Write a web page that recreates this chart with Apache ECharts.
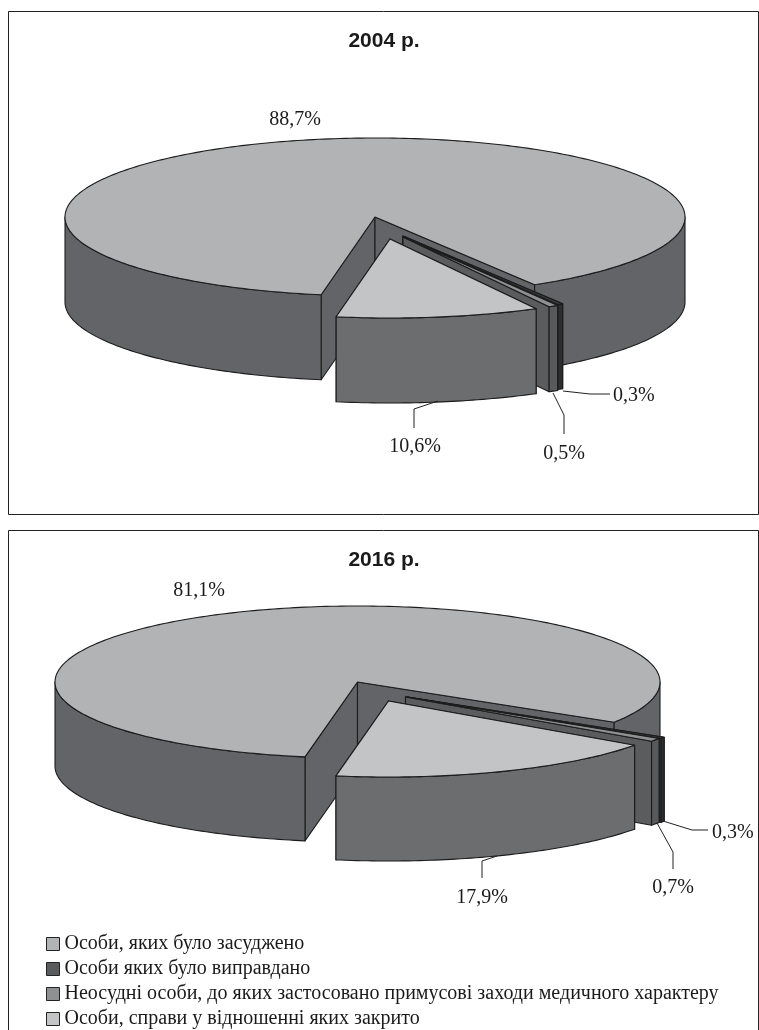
<!DOCTYPE html>
<html><head><meta charset="utf-8">
<style>html,body{margin:0;padding:0;background:#fff}#c{width:759px;height:1030px}</style>
<script src="https://cdn.jsdelivr.net/npm/echarts@6/dist/echarts.min.js"></script>
</head><body><div id="c"></div>
<script>
var categories = ['Особи, яких було засуджено','Особи яких було виправдано','Неосудні особи, до яких застосовано примусові заходи медичного характеру','Особи, справи у відношенні яких закрито'];
var values2004 = [88.7, 0.3, 0.5, 10.6];
var values2016 = [81.1, 0.3, 0.7, 17.9];
var titles = ['2004 р.', '2016 р.'];

var topColors  = ['#b2b3b5','#3a3a3c','#8f9092','#c3c4c6'];
var rimColors  = ['#636467','#2e2e30','#58595b','#6c6d6f'];
var wallColors = ['#636467','#3c3c3e','#5b5c5e','#6c6d6f'];
var stroke = '#1c1c1c';
var labelFont = '20px "Liberation Serif"';

var pies = [
 {values: values2004, cx:375, cy:217, rx:310, ry:79, depth:85, start:190,
  offsets:[[0,0],[28,19],[28,20],[15,22]],
  labels:[[295,120,'center'],[613,396,'left'],[564,454,'center'],[415,447,'center']],
  leaders:[null,[[563,391],[590,394],[610,394]],[[553,393],[564,415],[564,434]],[[438,401],[414,409],[414,428]]]},
 {values: values2016, cx:357.5, cy:682, rx:302.5, ry:76, depth:84, start:190,
  offsets:[[0,0],[50,15],[48,15],[31,19]],
  labels:[[199,591,'center'],[712,833,'left'],[673,888,'center'],[482,898,'center']],
  leaders:[null,[[663,821],[692,830],[708,830]],[[657,823],[673,852],[673,869]],[[497,856],[482,861],[482,878]]]}
];

function pt(p, o, a, dz){
  var r = a*Math.PI/180;
  return [p.cx+o[0]+p.rx*Math.sin(r), p.cy+o[1]-p.ry*Math.cos(r)+(dz||0)];
}
function arc(p,o,a1,a2,dz){
  var out=[], n=Math.max(2,Math.ceil(Math.abs(a2-a1)));
  for(var i=0;i<=n;i++) out.push(pt(p,o,a1+(a2-a1)*i/n,dz));
  return out;
}
function poly(points,fill,z2){
  return {type:'polygon',z2:z2,shape:{points:points},style:{fill:fill,stroke:stroke,lineWidth:1.1,lineJoin:'round'}};
}
function sliceRange(p,idx){
  var sum=p.values.reduce(function(a,b){return a+b;},0), a=p.start;
  for(var i=0;i<idx;i++) a+=p.values[i]/sum*360;
  return [a,a+p.values[idx]/sum*360];
}
function makeRender(p,idx){
  return function(params,api){
    var value=api.value(0), o=p.offsets[idx], rng=sliceRange(p,idx), a1=rng[0], a2=rng[1];
    var ch=[], apex=[p.cx+o[0],p.cy+o[1]], base=idx*10;
    function wall(a){
      var c=pt(p,o,a);
      ch.push(poly([apex,c,[c[0],c[1]+p.depth],[apex[0],apex[1]+p.depth]],wallColors[idx],base+1));
    }
    wall(a1); wall(a2);
    // outer rim: only the front half of the ellipse (90..270 deg, modulo 360) is seen
    [0,360].forEach(function(k){
      var s=Math.max(a1,90+k), e=Math.min(a2,270+k);
      if(e>s){
        var top=arc(p,o,s,e,0), bot=arc(p,o,e,s,p.depth);
        ch.push(poly(top.concat(bot),rimColors[idx],base+2));
      }
    });
    ch.push(poly([apex].concat(arc(p,o,a1,a2,0)),topColors[idx],base+3));
    if(p.leaders[idx]) ch.push({type:'polyline',z2:100,shape:{points:p.leaders[idx]},style:{fill:null,stroke:'#222',lineWidth:1}});
    var L=p.labels[idx];
    ch.push({type:'text',z2:101,style:{x:L[0],y:L[1],text:String(value).replace('.',',')+'%',font:labelFont,fill:'#1a1a1a',align:L[2],verticalAlign:'middle'}});
    return {type:'group',children:ch};
  };
}
var series=[];
pies.forEach(function(p){
  p.values.forEach(function(v,idx){
    series.push({type:'custom',name:categories[idx],coordinateSystem:'none',silent:true,animation:false,
      itemStyle:{color:topColors[idx]},data:[[v]],renderItem:makeRender(p,idx)});
  });
});
var legendColors=['#b2b3b5','#5a5b5d','#8f9092','#c3c4c6'];
var chart=echarts.init(document.getElementById('c'),null,{renderer:'canvas'});
chart.setOption({
  backgroundColor:'#fff',animation:false,
  title:[
    {text:titles[0],left:384,top:31,padding:0,textAlign:'center',textStyle:{fontFamily:'Liberation Sans',fontSize:21,fontWeight:'bold',color:'#1a1a1a'}},
    {text:titles[1],left:384,top:550,padding:0,textAlign:'center',textStyle:{fontFamily:'Liberation Sans',fontSize:21,fontWeight:'bold',color:'#1a1a1a'}}
  ],
  legend:{orient:'vertical',left:46,top:934,padding:0,itemWidth:13,itemHeight:13,itemGap:5,icon:'rect',selectedMode:false,
    data:categories.map(function(c,i){return {name:c,itemStyle:{color:legendColors[i],borderColor:'#222',borderWidth:1}};}),
    textStyle:{fontFamily:'Liberation Serif',fontSize:20,color:'#1a1a1a'}},
  graphic:[
    {type:'rect',silent:true,z:-1,shape:{x:8.5,y:11.5,width:750,height:503},style:{fill:'#fff',stroke:'#222',lineWidth:1}},
    {type:'rect',silent:true,z:-1,shape:{x:8.5,y:530.5,width:750,height:520},style:{fill:'#fff',stroke:'#222',lineWidth:1}}
  ],
  series:series
});
</script></body></html>
